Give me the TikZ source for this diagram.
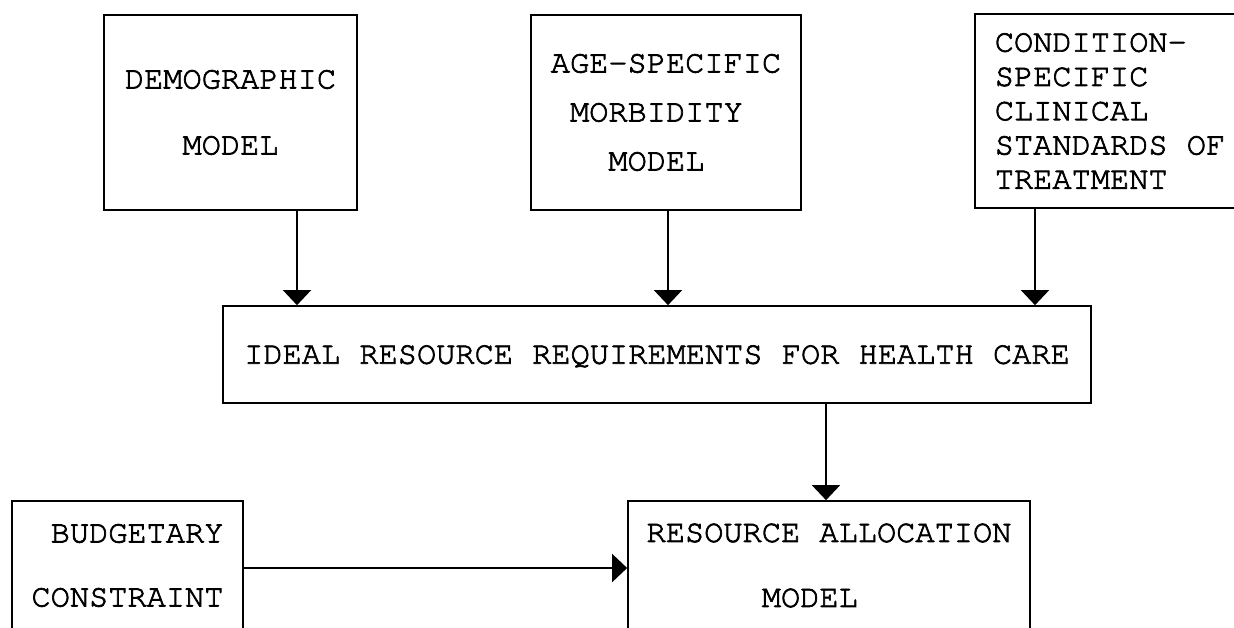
\documentclass[tikz,border=0pt]{standalone}
\usepackage{fontspec}
\newfontfamily\typew[FakeBold=2.2]{texgyrecursor-regular.otf}
\usetikzlibrary{arrows.meta}
\begin{document}
\begin{tikzpicture}[x=1pt,y=-1pt,
  box/.style={draw,line width=1.7pt,inner sep=0pt,align=left,
    font=\typew\fontsize{32}{#1}\selectfont},
  arr/.style={line width=1.7pt,-{Triangle[length=15pt,width=28pt]}}]
\useasboundingbox[fill=white] (0,0) rectangle (1234,627);
% boxes
\node[box=66,minimum width=253pt,minimum height=195pt] (demo) at (230.5,112.5)
  {DEMOGRAPHIC\\\phantom{XXX}MODEL};
\node[box=49,minimum width=270pt,minimum height=195pt] (morb) at (666,112.5)
  {AGE-SPECIFIC\\\phantom{X}MORBIDITY\\\phantom{XXX}MODEL};
\node[box=34.3,minimum width=270pt,minimum height=194pt] (cond) at (1110,111)
  {CONDITION-\\SPECIFIC\\CLINICAL\\STANDARDS OF\\TREATMENT};
\node[box=40,minimum width=868pt,minimum height=97pt,text depth=0pt] (ideal) at (657,354.5)
  {IDEAL RESOURCE REQUIREMENTS FOR HEALTH CARE};
\node[box=64,minimum width=231pt,minimum height=129pt] (budget) at (127.5,565.5)
  {\phantom{X}BUDGETARY\\CONSTRAINT};
\node[box=65,minimum width=402pt,minimum height=129pt] (alloc) at (829,565.5)
  {RESOURCE ALLOCATION\\\phantom{XXXXXX}MODEL};
% connector positions
\coordinate (xd) at (297,0);
\coordinate (xm) at (668,0);
\coordinate (xc) at (1035,0);
\coordinate (xi) at (826,0);
\coordinate (yb) at (0,568);
% connectors
\draw[arr] (demo.south -| xd) -- (ideal.north -| xd);
\draw[arr] (morb.south -| xm) -- (ideal.north -| xm);
\draw[arr] (cond.south -| xc) -- (ideal.north -| xc);
\draw[arr] (ideal.south -| xi) -- (alloc.north -| xi);
\draw[arr] (budget.east |- yb) -- (alloc.west |- yb);
\end{tikzpicture}
\end{document}
